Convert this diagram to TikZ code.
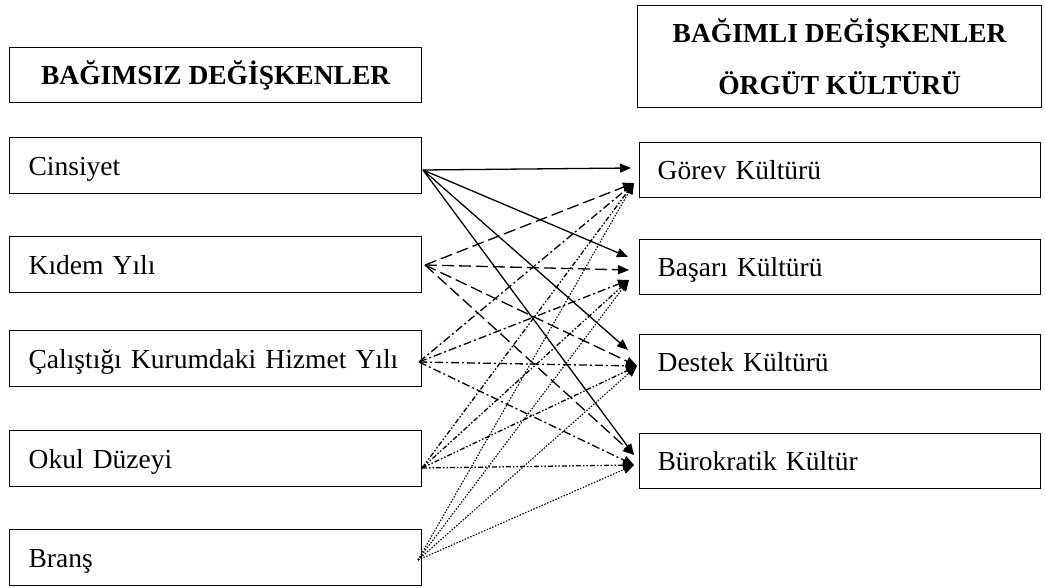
\documentclass[tikz,border=0pt]{standalone}
\usepackage{fontspec}
\setmainfont{Liberation Serif}
\usetikzlibrary{arrows.meta}
\begin{document}
\begin{tikzpicture}[x=1pt,y=-1pt,
  lbox/.style={draw, line width=1.3pt, anchor=north west, minimum height=56pt,
    text width=374pt, inner xsep=19pt, inner ysep=0pt, align=left,
    text height=20pt, text depth=1pt,
    font=\fontsize{27.5}{30}\selectfont},
  rbox/.style={draw, line width=1.3pt, anchor=north west, minimum height=55pt,
    text width=365pt, inner xsep=18pt, inner ysep=0pt, align=left,
    text height=20pt, text depth=2pt,
    font=\fontsize{27.5}{30}\selectfont},
  hbox/.style={draw, line width=1.3pt, anchor=north west, align=center,
    font=\bfseries\fontsize{27.5}{52}\selectfont, inner sep=0pt},
  conn/.style={line width=1.3pt, -{Triangle[length=11pt,width=9pt]}},
  sol/.style={conn},
  dsh/.style={conn, dash pattern=on 12pt off 5pt},
  dd/.style={conn, dash pattern=on 8pt off 3pt on 2pt off 3pt},
  ddd/.style={conn, dash pattern=on 5pt off 2pt on 1.5pt off 2pt on 1.5pt off 2pt},
  dot/.style={conn, line width=1.1pt, dash pattern=on 1.5pt off 1.5pt}]
\useasboundingbox (0,0) rectangle (1045,588);

% headers
\node[hbox, minimum width=412pt, minimum height=55pt] (hl) at (9,47) {BAĞIMSIZ DEĞİŞKENLER};
\node[hbox, minimum width=404pt, minimum height=102pt] (hr) at (637,5) {BAĞIMLI DEĞİŞKENLER\\ÖRGÜT KÜLTÜRÜ};

% left boxes
\node[lbox] (c) at (9,137) {Cinsiyet};
\node[lbox] (k) at (9,236) {Kıdem Yılı};
\node[lbox] (h) at (9,330) {Çalıştığı Kurumdaki Hizmet Yılı};
\node[lbox] (o) at (9,430) {Okul Düzeyi};
\node[lbox] (b) at (9,529) {Branş};

% right boxes
\node[rbox] (g) at (639,142) {Görev Kültürü};
\node[rbox] (s) at (639,239) {Başarı Kültürü};
\node[rbox] (d) at (639,334) {Destek Kültürü};
\node[rbox] (r) at (639,433) {Bürokratik Kültür};

% source points
\coordinate (cS) at (423,170);
\coordinate (kS) at (425,265);
\coordinate (hS) at (419,362);
\coordinate (oS) at (422,468);
\coordinate (bS) at (418,560);
% target points
\coordinate (g1) at (631,168);
\coordinate (g2) at (634,183);
\coordinate (s1) at (628,257);
\coordinate (s2) at (629,270);
\coordinate (s3) at (629,280);
\coordinate (d1) at (628,350);
\coordinate (d2) at (637,366);
\coordinate (r1) at (634,455);
\coordinate (r2) at (634,465);

% Cinsiyet
\draw[sol] (cS) -- (g1);
\draw[sol] (cS) -- (s1);
\draw[sol] (cS) -- (d1);
\draw[sol] (cS) -- (r1);
% Kidem
\draw[dsh] (kS) -- (g2);
\draw[dsh] (kS) -- (s2);
\draw[dsh] (kS) -- (d2);
\draw[dsh] (kS) -- (r1);
% Calistigi
\draw[dd] (hS) -- (g2);
\draw[dd] (hS) -- (s3);
\draw[dd] (hS) -- (d2);
\draw[dd] (hS) -- (r2);
% Okul
\draw[ddd] (oS) -- (g2);
\draw[ddd] (oS) -- (s3);
\draw[ddd] (oS) -- (d2);
\draw[ddd] (oS) -- (r2);
% Brans
\draw[dot] (bS) -- (g2);
\draw[dot] (bS) -- (s3);
\draw[dot] (bS) -- (d2);
\draw[dot] (bS) -- (r2);
\end{tikzpicture}
\end{document}
